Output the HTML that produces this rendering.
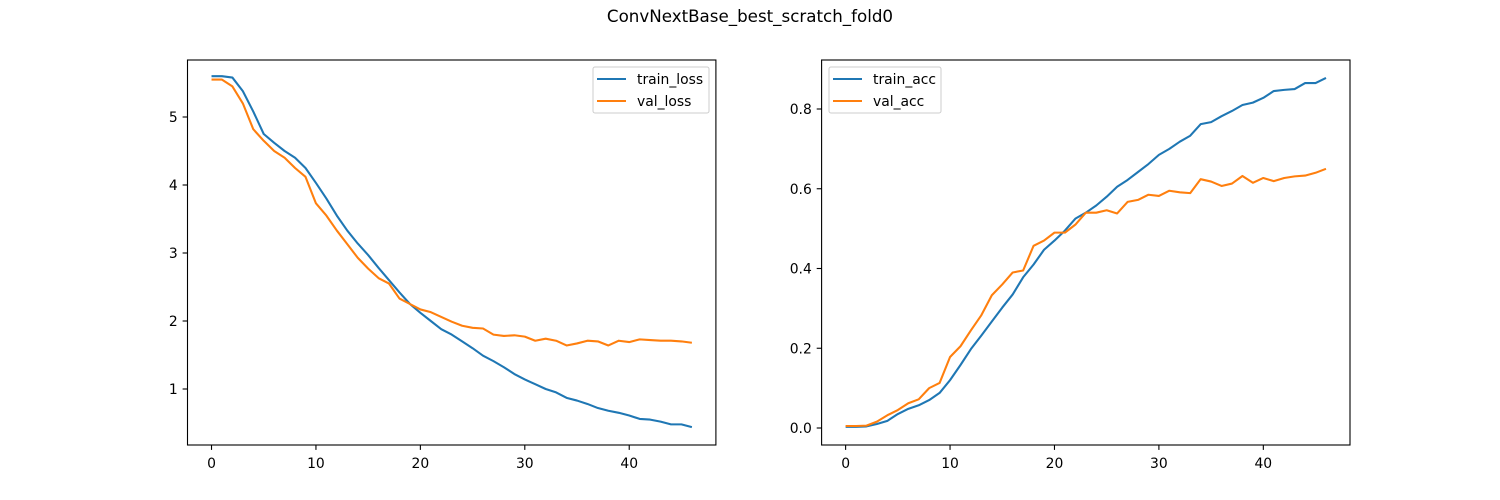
<!DOCTYPE html>
<html><head><meta charset="utf-8"><style>
html,body{margin:0;padding:0;background:#fff;}
svg{display:block;font-family:"DejaVu Sans","Liberation Sans",sans-serif;}
</style></head><body>
<svg id="fig" width="1500" height="500" viewBox="0 0 1500 500">
<rect width="1500" height="500" fill="#fff"/>
<text x="750" y="22" text-anchor="middle" font-size="16.7">ConvNextBase_best_scratch_fold0</text>
</svg>
<script>
const epochs = Array.from({length:47},(_,i)=>i);
const trainLoss = [5.6,5.6,5.58,5.38,5.08,4.75,4.62,4.5,4.4,4.25,4.03,3.8,3.55,3.33,3.14,2.97,2.78,2.6,2.42,2.25,2.12,2.0,1.88,1.8,1.7,1.6,1.49,1.41,1.32,1.22,1.14,1.07,1.0,0.95,0.87,0.83,0.78,0.72,0.68,0.65,0.61,0.56,0.55,0.52,0.48,0.48,0.44];
const valLoss = [5.55,5.55,5.45,5.2,4.82,4.65,4.5,4.4,4.25,4.12,3.73,3.55,3.33,3.13,2.93,2.77,2.63,2.55,2.33,2.25,2.17,2.13,2.06,1.99,1.93,1.9,1.89,1.8,1.78,1.79,1.77,1.71,1.74,1.71,1.64,1.67,1.71,1.7,1.64,1.71,1.69,1.73,1.72,1.71,1.71,1.7,1.68];
const trainAcc = [0.003,0.003,0.004,0.01,0.018,0.035,0.048,0.057,0.07,0.088,0.12,0.158,0.198,0.232,0.267,0.302,0.335,0.378,0.41,0.447,0.47,0.495,0.525,0.54,0.558,0.58,0.605,0.622,0.642,0.662,0.685,0.7,0.718,0.733,0.762,0.767,0.782,0.795,0.81,0.816,0.828,0.845,0.848,0.85,0.865,0.865,0.878];
const valAcc = [0.005,0.005,0.006,0.016,0.032,0.045,0.062,0.072,0.1,0.113,0.178,0.205,0.245,0.283,0.333,0.36,0.39,0.395,0.457,0.47,0.49,0.49,0.51,0.54,0.54,0.546,0.538,0.567,0.572,0.585,0.582,0.595,0.591,0.589,0.624,0.618,0.607,0.613,0.632,0.615,0.627,0.619,0.627,0.631,0.633,0.64,0.65];
const xTicks = [0,10,20,30,40];
const lossTicks = [1,2,3,4,5];
const accTicks = [0.0,0.2,0.4,0.6,0.8];
const accTickLabels = ["0.0","0.2","0.4","0.6","0.8"];

const NS="http://www.w3.org/2000/svg";
const svg=document.getElementById('fig');
function mk(tag,attrs,parent){const e=document.createElementNS(NS,tag);for(const k in attrs)e.setAttribute(k,attrs[k]);(parent||svg).appendChild(e);return e;}

function panel(name,x0,x1,yTop,yBot,ymin,ymax,yt,ytl,series,legendX,legendW){
  const g=mk('g',{});
  
  
  const xmin=-2.3,xmax=48.3;
  const X=v=>x0+(v-xmin)/(xmax-xmin)*(x1-x0);
  const Y=v=>yBot-(v-ymin)/(ymax-ymin)*(yBot-yTop);
  series.forEach(s=>{
    const p=mk('polyline',{points:s.data.map((v,i)=>X(epochs[i])+','+Y(v)).join(' '),fill:'none',stroke:s.color,'stroke-width':2.08,'stroke-linejoin':'round'},g);
    
    
  });
  const fr=mk('rect',{x:x0,y:yTop,width:x1-x0,height:yBot-yTop,fill:'none',stroke:'#000','stroke-width':1.1},g);
  
  
  xTicks.forEach(t=>{
    mk('line',{x1:X(t),x2:X(t),y1:yBot,y2:yBot+4.9,stroke:'#000','stroke-width':1.1},g);
    const tx=mk('text',{x:X(t),y:yBot+23,'text-anchor':'middle','font-size':13.9},g);
    tx.textContent=t;
    
    
  });
  yt.forEach((t,i)=>{
    mk('line',{x1:x0-4.9,x2:x0,y1:Y(t),y2:Y(t),stroke:'#000','stroke-width':1.1},g);
    const tx=mk('text',{x:x0-9.8,y:Y(t)+5,'text-anchor':'end','font-size':13.9},g);
    tx.textContent=ytl[i];
    
    
  });
  const lg=mk('g',{},g);
  
  
  mk('rect',{x:legendX,y:67,width:legendW,height:46,rx:2,fill:'#fff','fill-opacity':0.8,stroke:'#ccc','stroke-width':1},lg);
  series.forEach((s,i)=>{
    const yy=79+i*22;
    mk('line',{x1:legendX+4,x2:legendX+33,y1:yy,y2:yy,stroke:s.color,'stroke-width':2.08},lg);
    const tx=mk('text',{x:legendX+44,y:yy+5,'font-size':13.9},lg);
    tx.textContent=s.label;
    
    
  });
}
const yT=60,yB=445;
const lpu=(389-117)/4; const lossMin=1-(yB-389)/lpu, lossMax=5+(117-yT)/lpu;
const apu=(428-109)/0.8; const accMin=0-(yB-428)/apu, accMax=0.8+(109-yT)/apu;
panel('loss-chart',187.5,715.9,yT,yB,lossMin,lossMax,lossTicks,lossTicks.map(String),
  [{label:'train_loss',data:trainLoss,color:'#1f77b4'},{label:'val_loss',data:valLoss,color:'#ff7f0e'}],593,116);
panel('accuracy-chart',821.6,1350,yT,yB,accMin,accMax,accTicks,accTickLabels,
  [{label:'train_acc',data:trainAcc,color:'#1f77b4'},{label:'val_acc',data:valAcc,color:'#ff7f0e'}],829,112);
</script>
</body></html>
